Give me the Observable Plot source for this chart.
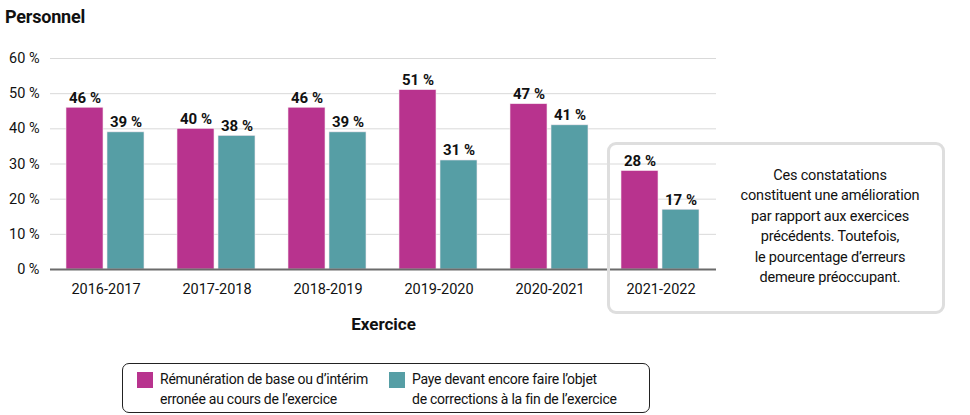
<!DOCTYPE html>
<html><head><meta charset="utf-8">
<script src="https://cdn.jsdelivr.net/npm/d3@7"></script>
<script src="https://cdn.jsdelivr.net/npm/@observablehq/plot@0.6"></script>
<style>
body{margin:0;background:#fff;font-family:Roboto,sans-serif;}
#wrap{position:relative;width:970px;height:415px;overflow:hidden;}
#title{position:absolute;left:5px;top:6px;font-weight:700;font-size:18px;color:#111;letter-spacing:-0.2px;}
#chart{position:absolute;left:0;top:30px;}
#note{position:absolute;left:607px;top:142px;width:332px;height:166px;border:3px solid #dedede;border-radius:9px;box-sizing:content-box;}
#note div{position:absolute;left:110px;width:220px;top:21px;text-align:center;font-size:14.5px;line-height:20.4px;color:#111;letter-spacing:-0.2px;}
#legend{position:absolute;left:122px;top:363px;width:526px;height:48px;border:1px solid #222;border-radius:7px;}
.li{position:absolute;top:5px;font-size:14px;line-height:20px;color:#111;letter-spacing:-0.25px;}
.sw{position:absolute;width:16px;height:16px;top:3px;left:-23px;}
</style></head>
<body><div id="wrap">
<div id="title">Personnel</div>
<div id="chart"></div>
<div id="note"><div>Ces constatations<br>constituent une amélioration<br>par rapport aux exercices<br>précédents. Toutefois,<br>le pourcentage d’erreurs<br>demeure préoccupant.</div></div>
<div id="legend"></div>
</div>
<script>
const years = ["2016-2017","2017-2018","2018-2019","2019-2020","2020-2021","2021-2022"];
const seriesNames = ["Rémunération de base ou d’intérim erronée au cours de l’exercice","Paye devant encore faire l’objet de corrections à la fin de l’exercice"];
const seriesA = [46,40,46,51,47,28];
const seriesB = [39,38,39,31,41,17];
const colors = ["#B8338E","#569EA5"];
const yTicks = [0,10,20,30,40,50,60];

const data = [];
years.forEach((y,i)=>{
  data.push({year:y, series:seriesNames[0], value:seriesA[i]});
  data.push({year:y, series:seriesNames[1], value:seriesB[i]});
});
const fmt = v => v + "\u00a0%";

const chart = Plot.plot({
  width: 970,
  height: 310,
  marginLeft: 49,
  marginRight: 253,
  marginTop: 28,
  marginBottom: 71,
  style: {fontFamily: "Roboto, sans-serif", fontSize: "14.5px", color: "#111", background: "transparent"},
  fx: {domain: years, padding: 0, label: null},
  x: {domain: seriesNames, paddingInner: 0.095, paddingOuter: 0.37, axis: null},
  y: {domain: [0, 60], ticks: yTicks, tickFormat: fmt, label: null},
  color: {domain: seriesNames, range: colors},
  marks: [
    Plot.gridY(yTicks.slice(1), {stroke: "#d9d9d9", strokeOpacity: 1, strokeWidth: 1}),
    Plot.axisY({ticks: yTicks, tickFormat: fmt, tickSize: 0, tickPadding: 11, fontSize: 14.5, label: null}),
    Plot.axisFx({anchor: "bottom", tickSize: 0, tickPadding: 14, fontSize: 14.5, label: "Exercice", labelAnchor: "center", labelOffset: 60}),
    Plot.barY(data, {fx: "year", x: "series", y: "value", fill: "series", stroke: "#f5e6ef", strokeWidth: 0.6}),
    Plot.text(data, {fx: "year", x: "series", y: "value", text: d => fmt(d.value), dy: -10, fontWeight: 700, fontSize: 15, fill: "#111"}),
    Plot.ruleY([0], {stroke: "#6b6b6b", strokeWidth: 2})
  ]
});
document.getElementById("chart").appendChild(chart);
// bold axis label
chart.querySelectorAll("text").forEach(t=>{ if (t.textContent === "Exercice") { t.style.fontWeight="700"; t.style.fontSize="17px"; }});

const leg = document.getElementById("legend");
const pos = [{x:37},{x:289}];
const lines = [["Rémunération de base ou d’intérim","erronée au cours de l’exercice"],["Paye devant encore faire l’objet","de corrections à la fin de l’exercice"]];
seriesNames.forEach((s,i)=>{
  const d = document.createElement("div");
  d.className = "li";
  d.style.left = pos[i].x + "px";
  d.innerHTML = `<span class="sw" style="background:${colors[i]}"></span>${lines[i][0]}<br>${lines[i][1]}`;
  leg.appendChild(d);
});
</script>
</body></html>
